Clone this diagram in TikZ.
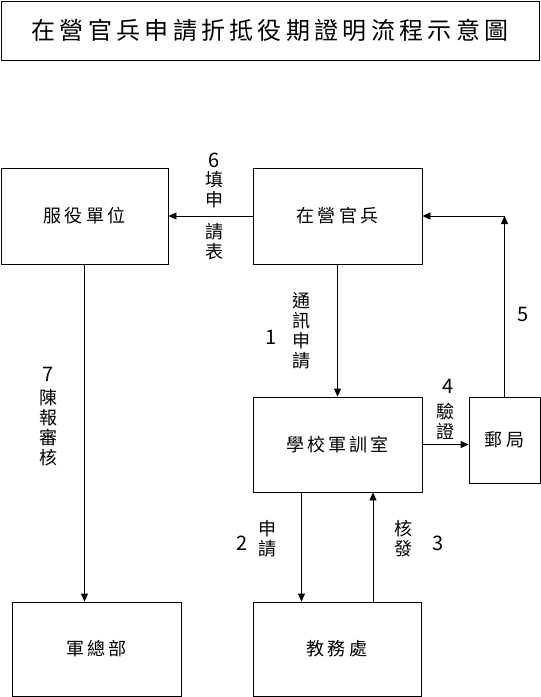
\documentclass[tikz,border=0pt]{standalone}
\usepackage{fontspec}
\setmainfont{Noto Sans CJK TC}
\newfontfamily\titlefont[LetterSpace=18]{Noto Sans CJK TC}
\newfontfamily\boxfont[LetterSpace=17]{Noto Sans CJK TC}
\usetikzlibrary{arrows.meta}

\begin{document}
\begin{tikzpicture}[x=1pt,y=-1pt,
  box/.style={draw,line width=0.8pt,inner sep=0pt,font=\boxfont\fontsize{18}{18}\selectfont},
  flow/.style={-{Triangle[length=8pt,width=7pt]},line width=0.8pt},
  vlabel/.style={align=center,inner sep=0pt,font=\fontsize{18}{20}\selectfont},
  num/.style={inner sep=0pt,font=\fontsize{20}{20}\selectfont}]
  \useasboundingbox (0,0) rectangle (541,697);
  % title
  \node[box,minimum width=538pt,minimum height=59pt,font=\titlefont\fontsize{24}{24}\selectfont] (title) at (270,30.5) {在營官兵申請折抵役期證明流程示意圖};
  % boxes
  \node[box,minimum width=167pt,minimum height=96pt] (unit) at (84.5,216) {服役單位};
  \node[box,minimum width=169pt,minimum height=96pt] (soldier) at (337.5,216) {在營官兵};
  \node[box,minimum width=169pt,minimum height=95pt] (office) at (337.5,444.5) {學校軍訓室};
  \node[box,minimum width=71pt,minimum height=86pt] (post) at (504.5,440) {郵局};
  \node[box,minimum width=169pt,minimum height=94pt] (hq) at (96.5,649) {軍總部};
  \node[box,minimum width=168pt,minimum height=94pt] (dean) at (337,649) {教務處};
  % connectors
  \draw[flow] (soldier) -- (unit);
  \draw[flow] (soldier) -- (office);
  \draw[flow] (office.east) -- (office.east -| post.west);
  \draw[flow] (post.north) -- (post.north |- soldier.east) coordinate (turn);
  \draw[flow] (turn) -- (soldier.east);
  \draw[flow] ([xshift=-36pt]office.south) -- ([xshift=-36pt]office.south |- dean.north);
  \draw[flow] ([xshift=36pt]dean.north) -- ([xshift=36pt]dean.north |- office.south);
  \draw[flow] (unit.south) -- (unit.south |- hq.north);
  % labels
  \node[num] (n6) at (214,160) {6};
  \node[vlabel] (fill) at (214,190) {填\\申};
  \node[vlabel] (form) at (214,242) {請\\表};
  \node[num] (n1) at (271,337) {1};
  \node[vlabel] (mail) at (301,331) {通\\訊\\申\\請};
  \node[num] (n7) at (48,374) {7};
  \node[vlabel] (report) at (48,428) {陳\\報\\審\\核};
  \node[num] (n4) at (448,386) {4};
  \node[vlabel] (check) at (445,421) {驗\\證};
  \node[num] (n5) at (523,314) {5};
  \node[num] (n2) at (242,543) {2};
  \node[vlabel] (apply) at (267,539) {申\\請};
  \node[vlabel] (issue) at (403,539) {核\\發};
  \node[num] (n3) at (438,543) {3};
\end{tikzpicture}
\end{document}
